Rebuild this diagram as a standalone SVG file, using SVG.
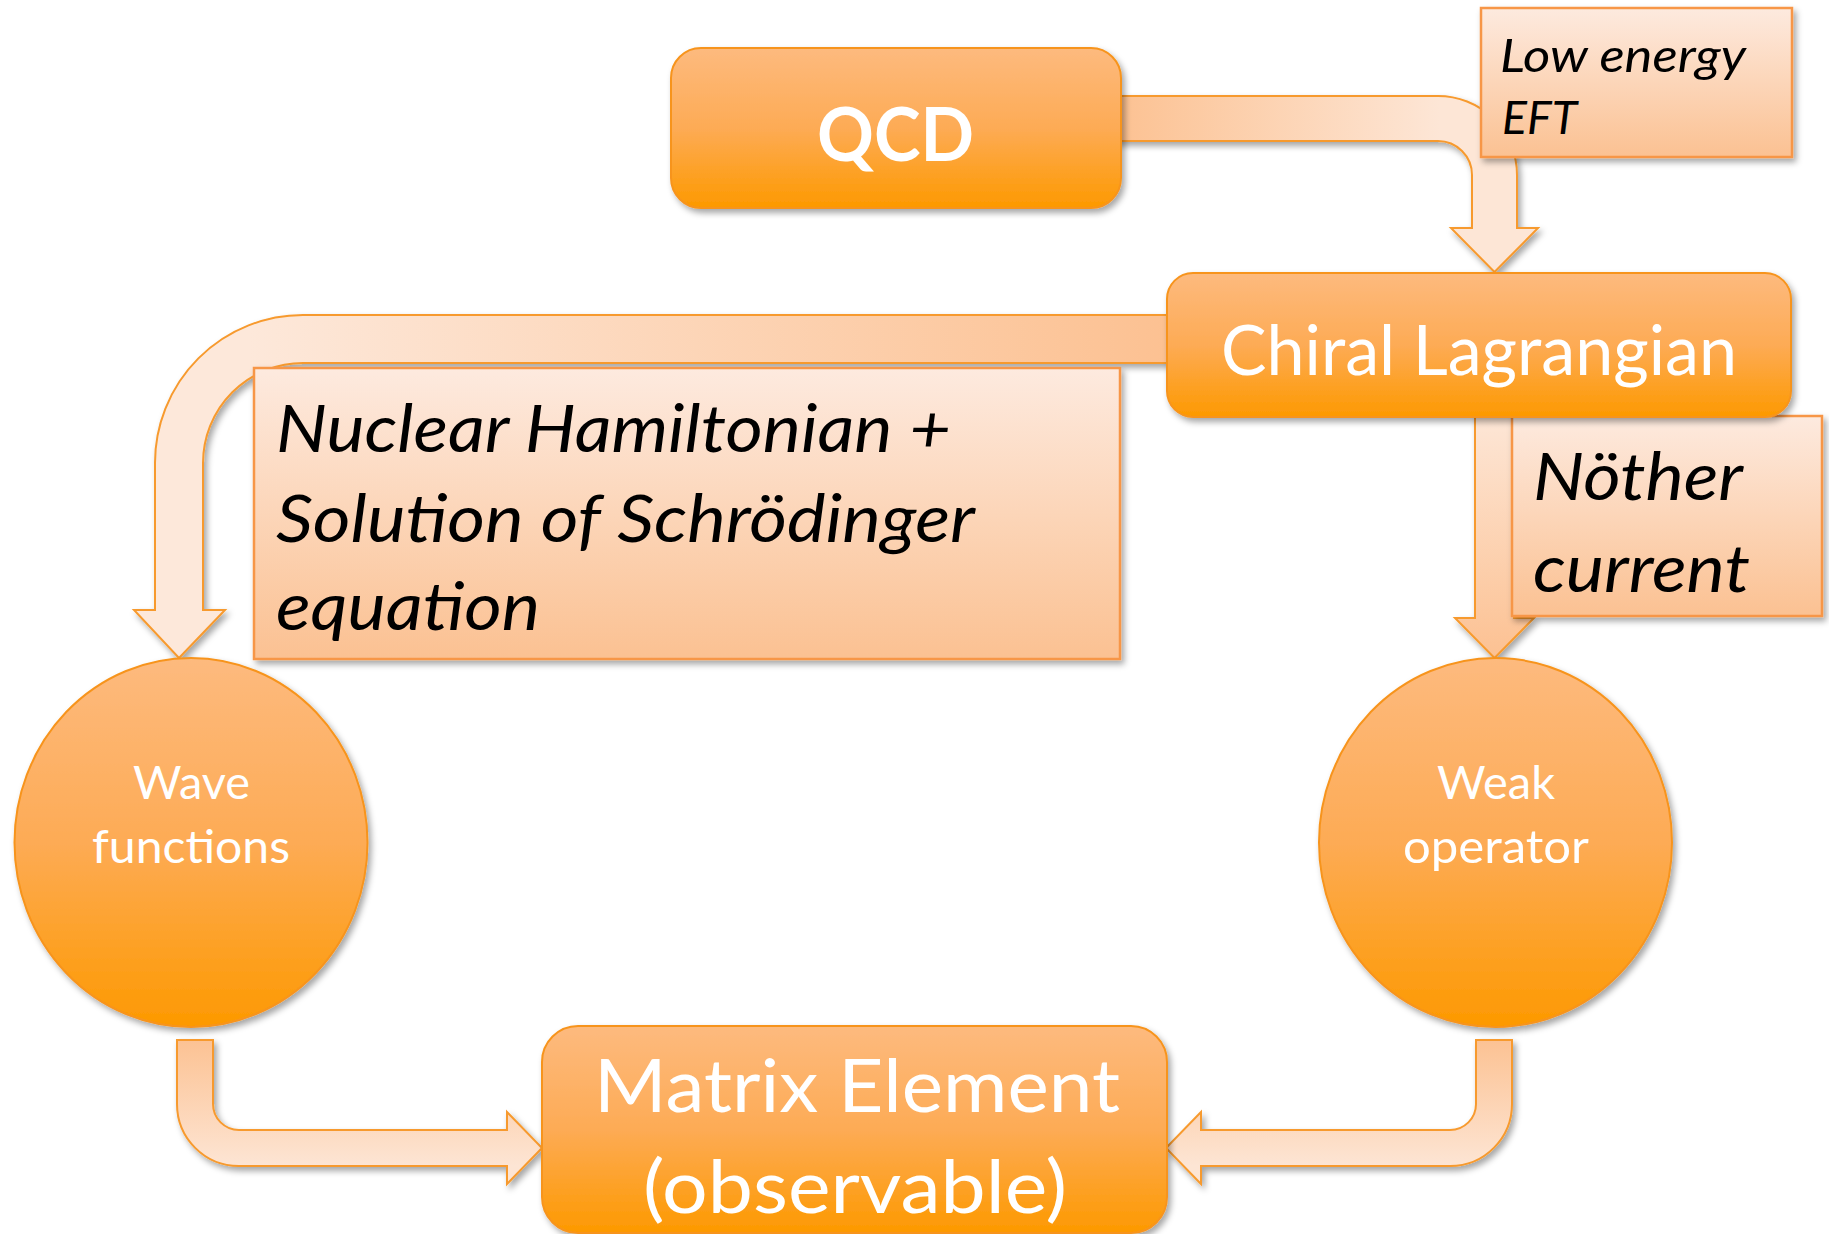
<svg xmlns="http://www.w3.org/2000/svg" width="1829" height="1234" viewBox="0 0 1829 1234">
<defs>
<linearGradient id="gNode" x1="0" y1="0" x2="0" y2="1">
<stop offset="0" stop-color="#fdba7e"/>
<stop offset="0.5" stop-color="#fdab55"/>
<stop offset="1" stop-color="#fd9900"/>
</linearGradient>
<linearGradient id="gLabel" x1="0" y1="0" x2="0" y2="1">
<stop offset="0" stop-color="#fdeadf"/>
<stop offset="1" stop-color="#fbc192"/>
</linearGradient>
<linearGradient id="gA1" gradientUnits="userSpaceOnUse" x1="1121" y1="0" x2="1440" y2="0">
<stop offset="0" stop-color="#fcc293"/>
<stop offset="1" stop-color="#fde6d6"/>
</linearGradient>
<linearGradient id="gA2" gradientUnits="userSpaceOnUse" x1="0" y1="417" x2="0" y2="658">
<stop offset="0" stop-color="#fde6d6"/>
<stop offset="1" stop-color="#fcc192"/>
</linearGradient>
<linearGradient id="gA3" gradientUnits="userSpaceOnUse" x1="1167" y1="0" x2="250" y2="0">
<stop offset="0" stop-color="#fcc192"/>
<stop offset="1" stop-color="#fde8da"/>
</linearGradient>
<linearGradient id="gA45" gradientUnits="userSpaceOnUse" x1="0" y1="1040" x2="0" y2="1166">
<stop offset="0" stop-color="#fcc293"/>
<stop offset="1" stop-color="#fde5d4"/>
</linearGradient>
<filter id="sh" x="-10%" y="-10%" width="125%" height="130%">
<feDropShadow dx="3" dy="4" stdDeviation="3" flood-color="#000" flood-opacity="0.35"/>
</filter>
</defs>
<style>
.node{fill:url(#gNode);stroke:#f7941d;stroke-width:2;filter:url(#sh)}
.lab{fill:url(#gLabel);stroke:#f79646;stroke-width:2.5;filter:url(#sh)}
.arr{stroke:#f79a2e;stroke-width:2;stroke-linejoin:miter;filter:url(#sh)}
.wt{fill:#fff;font-family:Lato,"Liberation Sans",sans-serif}
.it{fill:#000;font-family:Lato,"Liberation Sans",sans-serif;font-style:italic}
</style>
<rect width="1829" height="1234" fill="#fff"/>

<g id="connectors">
<path class="arr" fill="url(#gA1)" d="M1115,96 H1438 A79,79 0 0 1 1517,175 V228 H1538 L1494.5,272 L1451,228 H1472 V175 A34,34 0 0 0 1438,141 H1115 Z"/>
<path class="arr" fill="url(#gA2)" d="M1475,410 H1514 V618 H1534 L1494.5,658 L1455,618 H1475 Z"/>
<path class="arr" fill="url(#gA3)" d="M1175,315 H303 A148,148 0 0 0 155,463 V610 H134 L179,658 L225,610 H203 V463 A100,100 0 0 1 303,363 H1175 Z"/>
<path class="arr" fill="url(#gA45)" d="M177,1040 H213 V1104 A26,26 0 0 0 239,1130 H507 V1112 L542,1148 L507,1184 V1166 H239 A62,62 0 0 1 177,1104 Z"/>
<path class="arr" fill="url(#gA45)" d="M1476,1040 H1512 V1104 A62,62 0 0 1 1450,1166 H1201 V1184 L1166,1148 L1201,1112 V1130 H1450 A26,26 0 0 0 1476,1104 Z"/>
</g>

<g id="label-eft">
<rect class="lab" x="1481" y="8" width="311" height="149"/>
<text class="it" x="1500" y="72" font-size="47" textLength="246" lengthAdjust="spacingAndGlyphs">Low energy</text>
<text class="it" x="1502" y="134" font-size="47" textLength="75" lengthAdjust="spacingAndGlyphs">EFT</text>
</g>
<g id="label-noether">
<rect class="lab" x="1512" y="416" width="310" height="200"/>
<text class="it" x="1533" y="500" font-size="66" textLength="210" lengthAdjust="spacingAndGlyphs">Nöther</text>
<text class="it" x="1533" y="592" font-size="66" textLength="217" lengthAdjust="spacingAndGlyphs">current</text>
</g>
<g id="label-hamiltonian">
<rect class="lab" x="254" y="368" width="866" height="291"/>
<text class="it" x="276" y="452" font-size="65" textLength="675" lengthAdjust="spacingAndGlyphs">Nuclear Hamiltonian +</text>
<text class="it" x="276" y="542" font-size="65" textLength="699" lengthAdjust="spacingAndGlyphs">Solution of Schrödinger</text>
<text class="it" x="276" y="630" font-size="65" textLength="264" lengthAdjust="spacingAndGlyphs">equation</text>
</g>

<g id="node-qcd">
<rect class="node" x="671" y="48" width="450" height="160" rx="30"/>
<text class="wt" x="817" y="161" font-size="74" font-weight="bold" textLength="157" lengthAdjust="spacingAndGlyphs">QCD</text>
</g>
<g id="node-chiral">
<rect class="node" x="1167" y="273" width="624" height="144" rx="26"/>
<text class="wt" x="1221" y="375" font-size="69" textLength="516" lengthAdjust="spacingAndGlyphs">Chiral Lagrangian</text>
</g>
<g id="node-wave">
<ellipse class="node" cx="191" cy="842.5" rx="176.5" ry="184.5"/>
<text class="wt" x="133" y="799" font-size="47" textLength="117" lengthAdjust="spacingAndGlyphs">Wave</text>
<text class="wt" x="92" y="863" font-size="47" textLength="198" lengthAdjust="spacingAndGlyphs">functions</text>
</g>
<g id="node-weak">
<ellipse class="node" cx="1495.5" cy="842.5" rx="176.5" ry="184.5"/>
<text class="wt" x="1437" y="799" font-size="47" textLength="118" lengthAdjust="spacingAndGlyphs">Weak</text>
<text class="wt" x="1403" y="863" font-size="47" textLength="186" lengthAdjust="spacingAndGlyphs">operator</text>
</g>
<g id="node-matrix">
<rect class="node" x="542" y="1026" width="625" height="207" rx="36"/>
<text class="wt" x="594" y="1112" font-size="73" textLength="526" lengthAdjust="spacingAndGlyphs">Matrix Element</text>
<text class="wt" x="643" y="1213" font-size="73" textLength="424" lengthAdjust="spacingAndGlyphs">(observable)</text>
</g>
</svg>
